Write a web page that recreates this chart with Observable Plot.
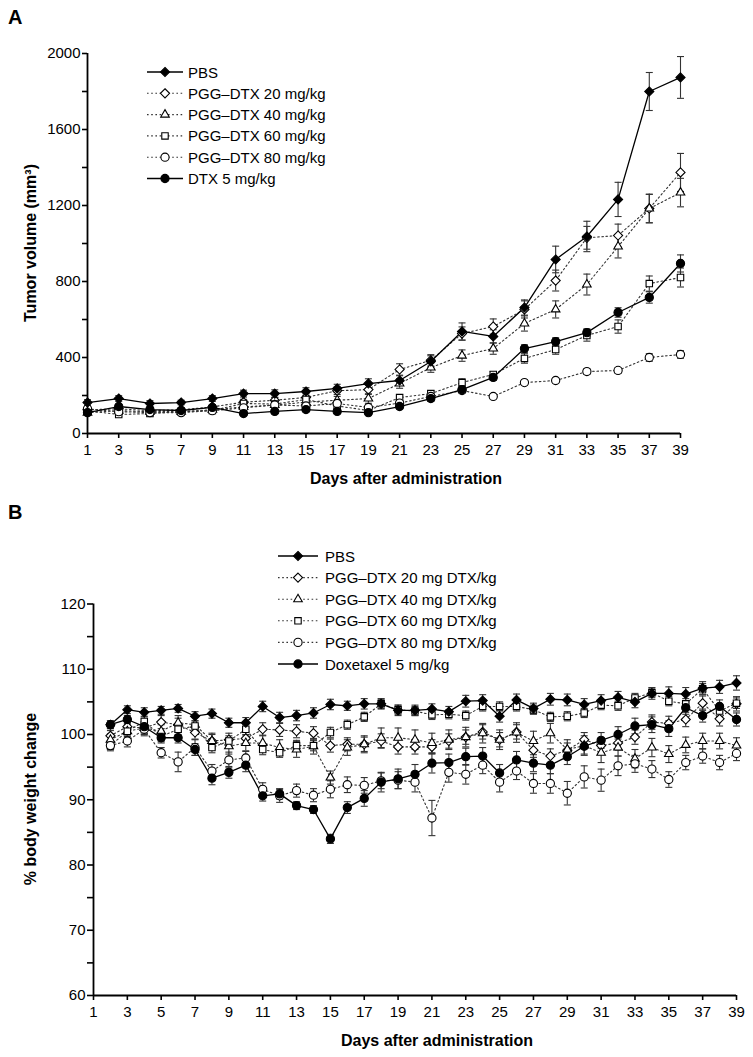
<!DOCTYPE html>
<html><head><meta charset="utf-8">
<script src="https://cdn.jsdelivr.net/npm/d3@7"></script>
<script src="https://cdn.jsdelivr.net/npm/@observablehq/plot@0.6"></script>
<style>
body{margin:0;background:#fff;}
#wrap{position:relative;width:753px;height:1057px;overflow:hidden;background:#fff;}
#wrap > svg{position:absolute;left:0;}
</style></head><body><div id="wrap"></div>
<script>
// ---------- data ----------
const seriesNamesA = ["PBS","PGG–DTX 20 mg/kg","PGG–DTX 40 mg/kg","PGG–DTX 60 mg/kg","PGG–DTX 80 mg/kg","DTX 5 mg/kg"];
const seriesNamesB = ["PBS","PGG–DTX 20 mg DTX/kg","PGG–DTX 40 mg DTX/kg","PGG–DTX 60 mg DTX/kg","PGG–DTX 80 mg DTX/kg","Doxetaxel 5 mg/kg"];

const daysA = [1,3,5,7,9,11,13,15,17,19,21,23,25,27,29,31,33,35,37,39];
const xTicksA = [1,3,5,7,9,11,13,15,17,19,21,23,25,27,29,31,33,35,37,39];
const yTicksA = [0,400,800,1200,1600,2000];
const yMinorA = [200,600,1000,1400,1800];

const pbsA   = [163,184,158,163,184,210,210,221,237,263,279,379,537,511,663,916,1037,1232,1800,1874];
const pbsAErr= [15,15,15,12,15,18,20,20,22,25,25,30,45,35,40,70,80,90,100,110];
const p20A   = [125,130,120,125,140,165,175,190,225,231,337,385,526,563,653,805,1030,1042,1184,1374];
const p20AErr= [12,12,12,12,12,15,15,20,20,25,30,30,35,40,45,55,60,60,75,100];
const p40A   = [110,120,115,115,125,140,150,165,175,184,263,347,410,447,579,653,784,984,1184,1268];
const p40AErr= [10,10,10,10,12,15,15,20,20,25,25,25,30,30,40,45,55,60,75,75];
const p60A   = [120,100,105,115,121,158,155,179,145,121,189,210,268,311,395,442,516,563,789,821];
const p60AErr= [10,10,10,10,12,15,15,15,15,12,15,15,20,15,25,25,30,35,40,50];
const p80A   = [130,115,110,110,120,135,150,145,158,137,160,195,226,195,268,279,326,332,400,416];
const p80AErr= [10,10,10,10,10,12,12,12,12,12,12,12,12,10,12,12,15,15,20,20];
const dtxA   = [110,142,126,121,137,105,116,126,116,110,142,184,231,295,447,484,531,637,716,895];
const dtxAErr= [10,10,10,10,10,10,10,10,10,10,12,15,15,15,20,20,20,25,30,45];

const daysB = [2,3,4,5,6,7,8,9,10,11,12,13,14,15,16,17,18,19,20,21,22,23,24,25,26,27,28,29,30,31,32,33,34,35,36,37,38,39];
const xTicksB = [1,3,5,7,9,11,13,15,17,19,21,23,25,27,29,31,33,35,37,39];
const yTicksB = [60,70,80,90,100,110,120];
const yMinorB = [65,75,85,95,105,115];

const pbsB = [101.5,103.8,103.4,103.7,104.0,102.8,103.2,101.8,101.8,104.3,102.6,102.9,103.3,104.6,104.4,104.7,104.7,103.7,103.7,103.9,103.5,105.1,105.2,102.8,105.3,104.0,105.4,105.3,104.6,105.2,105.7,105.0,106.3,106.3,106.2,107.1,107.3,107.9];
const pbsBErr = [0.6,0.6,0.7,0.6,0.6,0.7,0.7,0.7,0.8,0.8,0.8,0.8,0.8,0.8,0.7,0.8,0.8,0.8,0.8,0.8,0.8,0.9,0.9,0.9,0.9,0.8,0.9,0.9,0.9,0.9,0.9,0.9,0.9,1.0,1.0,1.0,1.0,1.1];
const p20B = [99.8,101.2,101.0,101.9,101.5,100.3,99.0,99.2,99.4,100.8,100.7,100.5,100.2,98.3,98.5,98.5,99.0,98.1,98.1,98.1,99.0,99.6,100.4,99.2,100.4,97.6,96.7,97.6,99.2,98.3,98.7,99.6,101.9,101.7,102.3,104.8,102.4,104.7];
const p20BErr = [0.8,0.9,0.9,1.0,1.0,1.0,1.0,1.0,1.0,1.0,1.0,1.0,1.0,1.0,1.0,1.1,1.1,1.1,1.1,1.1,1.1,1.1,1.1,1.1,1.1,1.1,1.1,1.1,1.1,1.1,1.1,1.1,1.1,1.1,1.1,1.1,1.1,1.1];
const p40B = [99.2,100.5,101.0,100.5,101.8,101.5,99.0,98.2,98.7,98.7,98.0,97.7,98.2,93.4,98.0,98.5,99.5,99.5,99.2,98.7,99.2,99.6,100.2,99.2,100.3,99.0,100.2,97.7,98.3,97.2,98.0,96.3,98.0,97.0,98.4,99.0,99.0,98.3];
const p40BErr = [0.9,1.0,1.0,1.0,1.1,1.1,1.2,1.2,1.2,1.2,1.2,1.2,1.2,1.0,1.2,1.3,1.5,1.5,1.5,1.5,1.5,1.5,1.5,1.5,1.5,1.5,1.5,1.5,1.5,1.5,1.3,1.4,1.4,1.3,1.2,1.2,1.2,1.2];
const p60B = [98.3,100.5,102.0,99.7,100.8,101.3,98.0,99.0,100.8,97.7,97.2,98.3,98.3,100.3,101.5,102.7,104.7,103.8,103.6,103.0,103.1,102.9,104.3,104.3,104.3,103.8,102.7,102.8,103.3,104.5,104.4,105.6,106.4,105.1,104.7,107.0,103.6,104.8];
const p60BErr = [0.6,0.8,0.8,0.8,0.8,0.8,0.8,0.8,0.8,0.8,0.7,0.8,0.8,0.8,0.7,0.7,0.7,0.7,0.7,0.7,0.7,0.7,0.7,0.7,0.7,0.7,0.7,0.7,0.7,0.7,0.7,0.7,0.7,0.7,0.8,0.8,0.8,0.8];
const p80B = [98.3,99.0,100.8,97.2,95.8,98.0,94.4,96.1,96.4,91.6,90.6,91.4,90.7,91.6,92.3,92.2,92.9,93.0,92.7,87.2,94.2,93.9,95.3,92.7,94.4,92.5,92.5,91.0,93.5,93.0,95.2,95.5,94.7,93.1,95.7,96.7,95.7,97.1];
const p80BErr = [0.8,0.9,1.0,0.8,1.5,1.2,1.0,1.2,1.0,1.0,1.0,1.0,1.0,1.3,1.2,1.2,1.2,1.3,1.5,2.7,1.5,1.5,1.3,1.5,1.3,1.5,1.5,1.8,1.7,1.7,1.5,1.3,1.3,1.2,1.1,1.1,1.1,1.1];
const dtxB = [101.5,102.3,101.2,99.5,99.5,97.7,93.3,94.2,95.3,90.6,90.9,89.1,88.5,84.0,88.8,90.2,92.7,93.2,93.9,95.6,95.7,96.6,96.7,94.1,96.1,95.6,95.3,96.6,98.2,99.1,100.0,101.3,101.5,100.9,104.1,102.9,104.3,102.3];
const dtxBErr = [0.6,0.6,0.7,0.8,0.8,0.9,1.0,0.9,1.0,0.8,0.8,0.6,0.6,0.7,0.9,1.2,1.5,1.5,1.5,1.5,1.3,1.3,1.3,1.3,1.3,1.3,1.3,1.2,1.2,1.2,1.2,1.2,1.2,1.2,1.0,1.0,1.0,1.0];

// ---------- styles ----------
const FONT = '"Liberation Sans", Arial, Helvetica, sans-serif';
const symbols = ["diamond2","diamond2","triangle2","square2","circle","circle"];
const fills   = ["#000","#fff","#fff","#fff","#fff","#000"];
const dashed  = [false,true,true,true,true,false];
const drawOrder = [1,2,3,4,5,0];

const capSym = {draw(ctx, size){ const w = Math.sqrt(size/Math.PI); ctx.moveTo(-w,0); ctx.lineTo(w,0); }};

function rows(days, vals, errs, s){ return days.map((d,i)=>({day:d, v:vals[i], e:errs[i], s})); }

function seriesLayers(sets, r){
  const errs = [], lines = [], dots = [];
  for (const si of drawOrder){
    const data = sets[si];
    errs.push(
      Plot.ruleX(data, {x:"day", y1:d=>d.v-d.e, y2:d=>d.v+d.e, stroke:"#333", strokeWidth:1.1}),
      Plot.dot(data, {x:"day", y:d=>d.v+d.e, symbol:capSym, r:3.5, fill:"none", stroke:"#333", strokeWidth:1.1}),
      Plot.dot(data, {x:"day", y:d=>d.v-d.e, symbol:capSym, r:3.5, fill:"none", stroke:"#333", strokeWidth:1.1})
    );
    lines.push(Plot.line(data, {x:"day", y:"v", stroke: dashed[si] ? "#333" : "#000",
      strokeWidth: dashed[si] ? 1.1 : 1.3, strokeDasharray: dashed[si] ? "1.6,2.6" : null}));
    dots.push(Plot.dot(data, {x:"day", y:"v", symbol:symbols[si], r:r, fill:fills[si], stroke:"#000", strokeWidth:1.1}));
  }
  return [...errs, ...lines, ...dots];
}

// ---------- panel A ----------
const setsA = [rows(daysA,pbsA,pbsAErr,0), rows(daysA,p20A,p20AErr,1), rows(daysA,p40A,p40AErr,2),
               rows(daysA,p60A,p60AErr,3), rows(daysA,p80A,p80AErr,4), rows(daysA,dtxA,dtxAErr,5)];
const plotA = Plot.plot({
  width:753, height:500, marginLeft:87, marginRight:73, marginTop:53, marginBottom:67,
  x:{domain:[1,39]}, y:{domain:[0,2000]},
  style:{fontFamily:FONT, background:"transparent", overflow:"visible", color:"#000"},
  marks:[
    ...seriesLayers(setsA, 4.1),
    Plot.axisY({ticks:yTicksA, tickSize:5, tickPadding:2, fontSize:15, strokeWidth:1.6, label:null, tickFormat:d=>String(d)}),
    Plot.axisY({ticks:yMinorA, tickSize:5, strokeWidth:1.6, label:null, tickFormat:()=>""}),
    Plot.axisX({ticks:xTicksA, tickSize:5, tickPadding:6, fontSize:15, strokeWidth:1.6, label:null, tickFormat:d=>String(d)}),
    Plot.ruleX([1], {strokeWidth:1.8}),
    Plot.ruleY([0], {strokeWidth:1.8})
  ]
});
plotA.style.top = "0px";

// ---------- panel B ----------
const setsB = [rows(daysB,pbsB,pbsBErr,0), rows(daysB,p20B,p20BErr,1), rows(daysB,p40B,p40BErr,2),
               rows(daysB,p60B,p60BErr,3), rows(daysB,p80B,p80BErr,4), rows(daysB,dtxB,dtxBErr,5)];
const plotB = Plot.plot({
  width:753, height:557, marginLeft:93, marginRight:17, marginTop:103.5, marginBottom:62,
  x:{domain:[1,39]}, y:{domain:[60,120]},
  style:{fontFamily:FONT, background:"transparent", overflow:"visible", color:"#000"},
  marks:[
    ...seriesLayers(setsB, 4.1),
    Plot.axisY({ticks:yTicksB, tickSize:6, tickPadding:2, fontSize:15, strokeWidth:1.6, label:null, tickFormat:d=>String(d)}),
    Plot.axisY({ticks:yMinorB, tickSize:6, strokeWidth:1.6, label:null, tickFormat:()=>""}),
    Plot.axisX({ticks:xTicksB, tickSize:5, tickPadding:6, fontSize:15, strokeWidth:1.6, label:null, tickFormat:d=>String(d)}),
    Plot.ruleX([1], {strokeWidth:1.8}),
    Plot.ruleY([60], {strokeWidth:1.8})
  ]
});
plotB.style.top = "500px";

const wrap = document.getElementById("wrap");
wrap.append(plotA, plotB);

// ---------- overlay: panel letters, axis titles, legends ----------
const ov = d3.select(wrap).append("svg").attr("width",753).attr("height",1057)
  .style("top","0px").style("font-family",FONT);

ov.append("text").attr("x",8).attr("y",24).attr("font-size",20).attr("font-weight","bold").text("A");
ov.append("text").attr("x",8).attr("y",519).attr("font-size",20).attr("font-weight","bold").text("B");

ov.append("text").attr("transform","translate(30,243) rotate(-90)").attr("text-anchor","middle")
  .attr("dominant-baseline","central").attr("font-size",16).attr("font-weight","bold").text("Tumor volume (mm³)");
ov.append("text").attr("transform","translate(30,799) rotate(-90)").attr("text-anchor","middle")
  .attr("dominant-baseline","central").attr("font-size",16).attr("font-weight","bold").text("% body weight change");
ov.append("text").attr("x",406).attr("y",484).attr("text-anchor","middle").attr("font-size",16)
  .attr("font-weight","bold").text("Days after administration");
ov.append("text").attr("x",437).attr("y",1046).attr("text-anchor","middle").attr("font-size",16)
  .attr("font-weight","bold").text("Days after administration");

const d3sym = {diamond2:d3.symbolDiamond2, triangle2:d3.symbolTriangle2, square2:d3.symbolSquare2, circle:d3.symbolCircle};
function legend(names, x1, x2, xt, y0, dy){
  names.forEach((name, i) => {
    const y = y0 + i*dy;
    const g = ov.append("g");
    g.append("line").attr("x1",x1).attr("x2",x2).attr("y1",y).attr("y2",y)
      .attr("stroke", dashed[i] ? "#333" : "#000").attr("stroke-width", dashed[i] ? 1.1 : 1.3)
      .attr("stroke-dasharray", dashed[i] ? "1.6,2.6" : null);
    g.append("path").attr("transform",`translate(${(x1+x2)/2},${y})`)
      .attr("d", d3.symbol(d3sym[symbols[i]], 4.1*4.1*Math.PI)())
      .attr("fill", fills[i]).attr("stroke","#000").attr("stroke-width",1.1);
    g.append("text").attr("x",xt).attr("y",y).attr("dominant-baseline","central")
      .attr("font-size",15).text(name);
  });
}
legend(seriesNamesA, 147, 183, 188, 72, 21.3);
legend(seriesNamesB, 278, 318, 325, 556, 21.6);
</script>
</body></html>
